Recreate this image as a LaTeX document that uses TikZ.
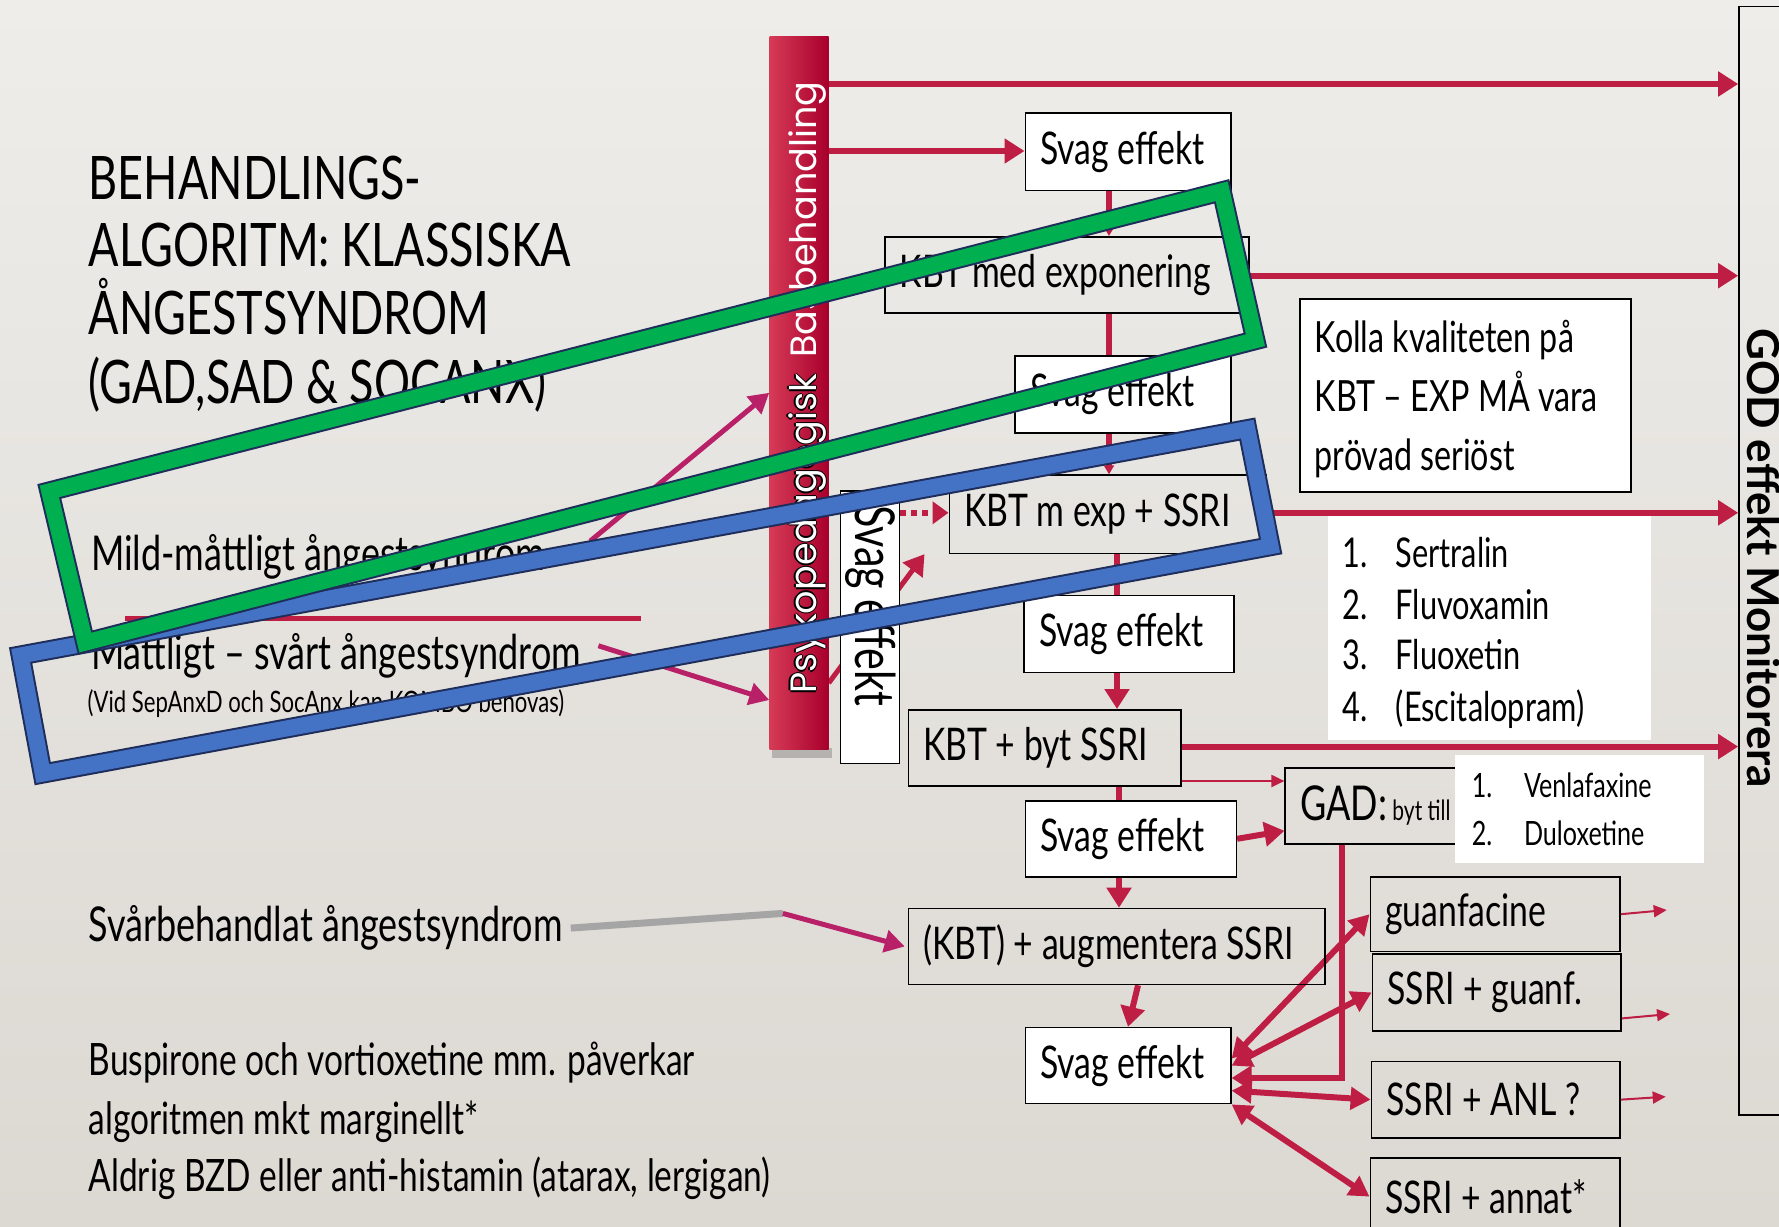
\documentclass[tikz,border=0pt]{standalone}
\usepackage{fontspec}
\setmainfont{Lato}[FakeStretch=0.75]
\newfontfamily\godfont{Lato}
\newfontfamily\barfont{Poppins}
\usetikzlibrary{arrows.meta}
\pgfdeclarelayer{back}
\pgfdeclarelayer{mid}
\pgfsetlayers{back,mid,main}
\definecolor{crim}{RGB}{190,30,68}
\definecolor{mag}{RGB}{184,32,104}
\definecolor{grn}{RGB}{0,176,80}
\definecolor{blu}{RGB}{68,114,196}
\definecolor{navy}{RGB}{31,45,90}
\definecolor{bgtop}{RGB}{238,237,234}
\definecolor{bgbot}{RGB}{220,216,210}
\definecolor{barl}{RGB}{214,58,86}
\definecolor{barr}{RGB}{168,0,44}
\definecolor{gry}{RGB}{165,165,165}
\newcommand{\fs}[2]{\fontsize{#1}{#2}\selectfont}
\newcommand{\outl}[1]{\leavevmode\rlap{\color{black}\raisebox{1.4pt}{#1}}\rlap{\color{black}\raisebox{-1.4pt}{#1}}\rlap{\color{black}\kern1.4pt#1}\rlap{\color{black}\kern-1.4pt#1}#1}
\begin{document}
\begin{tikzpicture}[x=1pt,y=-1pt,
  box/.style={draw=black, line width=1.6pt, rectangle, inner xsep=15pt, inner ysep=0pt, anchor=north west, font=\fs{45}{54}},
  wbox/.style={box, fill=white},
  tx/.style={anchor=base west, inner sep=0pt, font=\fs{45}{54}},
  ar/.style={draw=crim, line width=6pt, -{Triangle[length=20pt,width=24pt]}},
  arsm/.style={draw=crim, line width=6pt, -{Triangle[length=9pt,width=10pt]}},
  ln/.style={draw=crim, line width=6pt},
  arthin/.style={draw=crim, line width=2pt, -{Triangle[length=13pt,width=12pt]}},
  ardbl/.style={draw=crim, line width=6pt, {Triangle[length=20pt,width=22pt]}-{Triangle[length=20pt,width=22pt]}},
  marr/.style={draw=mag, line width=5pt, -{Triangle[length=20pt,width=22pt]}},
  dotarr/.style={draw=crim, line width=6pt, dash pattern=on 6pt off 5pt, -{Triangle[length=16pt,width=22pt]}},
  frame/.style={draw=navy, line width=2pt, double distance=16pt, line join=miter},
  listbox/.style={fill=white, inner sep=0pt, anchor=north west},
]
\useasboundingbox (0,0) rectangle (1779,1226);
\begin{pgfonlayer}{back}
\shade[top color=bgtop, bottom color=bgbot] (0,0) rectangle (1779,1226);
\end{pgfonlayer}

% left texts
\node[tx, font=\fs{60}{68}] (t1) at (88.5,199.7) {BEHANDLINGS-};
\node[tx, font=\fs{60}{68}] (t2) at (88.5,266.6) {ALGORITM: KLASSISKA};
\node[tx, font=\fs{60}{68}] (t3) at (88.5,334.7) {ÅNGESTSYNDROM};
\node[tx, font=\fs{60}{68}] (t4) at (88.5,403.9) {(GAD,SAD \& SOCANX)};
\node[tx, font=\fs{48}{54}] (mild) at (90.8,570.7) {Mild-måttligt ångestsyndrom};
\node[tx, font=\fs{48}{54}] (matt) at (90.8,669.4) {Måttligt – svårt ångestsyndrom};
\node[tx, font=\fs{29.5}{32}] (vid) at (87.4,712.5) {(Vid SepAnxD och SocAnx kan KOMBO behövas)};
\node[tx, font=\fs{48}{54}] (svar) at (88.5,941.7) {Svårbehandlat ångestsyndrom};
\node[tx, font=\fs{44.6}{50}] (n1) at (88.5,1075.6) {Buspirone och vortioxetine mm. påverkar};
\node[tx, font=\fs{44.6}{50}] (n2) at (88.5,1134.6) {algoritmen mkt marginellt*};
\node[tx, font=\fs{44.6}{50}] (n3) at (88.5,1191.3) {Aldrig BZD eller anti-histamin (atarax, lergigan)};

% bar
\node[draw=none, left color=barl, right color=barr, minimum width=59pt, minimum height=712.5pt, inner sep=0pt, anchor=north west] (bar) at (769.3,36.3) {};
\node[rotate=90, anchor=base west, inner sep=0pt, text=white, font=\barfont\fs{36.6}{40}] (bart) at (816,694) {\outl{Psykopedagogisk}\hspace{16pt}Basbehandling};

% GOD box
\node[draw=black, line width=1.6pt, minimum width=80pt, minimum height=1108.5pt, inner sep=0pt, anchor=north west] (god) at (1738.2,5.7) {};
\node[rotate=-90, inner sep=0pt, font=\godfont\bfseries\fs{44}{48}] (godt) at (1764,558) {GOD effekt Monitorera};

% boxes
\node[wbox, minimum height=77.2pt] (s1) at (1024.5,112.3) {\makebox[175.5pt][l]{Svag effekt}};
\node[box, minimum height=76pt] (kme) at (883.9,236) {\makebox[334pt][l]{KBT med exponering}};
\node[wbox, minimum height=77.3pt] (s2) at (1014.3,355) {\makebox[185.7pt][l]{Svag effekt}};
\node[box, minimum height=78.2pt] (kms) at (948.5,474.3) {\makebox[286.5pt][l]{KBT m exp + SSRI}};
\node[wbox, minimum height=192.9pt, font=\fs{43}{59}] (kolla) at (1299,298.4) {\makebox[301.4pt][l]{\raisebox{-4pt}[\height][\depth]{\begin{tabular}{@{}l@{}}Kolla kvaliteten på\\KBT – EXP MÅ vara\\prövad seriöst\end{tabular}}}};
\node[wbox, minimum width=59pt, minimum height=272.5pt, inner xsep=0pt] (sv) at (839.6,490) {};
\node[rotate=-90, anchor=base west, inner sep=0pt, font=\fs{55}{60}] (svt) at (855,505) {Svag effekt};
\node[wbox, minimum height=77.2pt] (s3) at (1023.4,594.5) {\makebox[180pt][l]{Svag effekt}};
\node[box, minimum height=76pt] (kbs) at (907.7,709) {\makebox[242.3pt][l]{KBT + byt SSRI}};
\node[box, minimum height=76pt] (gad) at (1284.4,767) {\makebox[150pt][l]{\fs{48}{54}GAD:{\fs{28}{30} byt till}}};
\node[wbox, minimum height=76pt] (s4) at (1024.5,800) {\makebox[181pt][l]{Svag effekt}};
\node[box, minimum height=76pt] (aug) at (907.7,907.7) {\makebox[386.3pt][l]{(KBT) + augmentera SSRI}};
\node[wbox, minimum height=76pt] (s5) at (1024.5,1026.8) {\makebox[175.5pt][l]{Svag effekt}};
\node[box, minimum height=74.8pt] (guanf) at (1369.5,876) {\makebox[219.5pt][l]{guanfacine}};
\node[box, minimum height=77.2pt] (ssrig) at (1371.7,953) {\makebox[218.5pt][l]{SSRI + guanf.}};
\node[box, minimum height=76.1pt] (ssria) at (1370.6,1060.8) {\makebox[218.4pt][l]{SSRI + ANL ?}};
\node[box, minimum height=77pt] (ssrin) at (1369.5,1157.3) {\makebox[219.5pt][l]{SSRI + annat*}};

% lists
\node[listbox, minimum width=323.3pt, minimum height=224pt] (l1) at (1327.5,516) {};
\node[tx, font=\fs{41}{50}] (l1a) at (1342,567.3) {\makebox[53.6pt][l]{1.}Sertralin};
\node[tx, font=\fs{41}{50}] (l1b) at (1342,619.5) {\makebox[53.6pt][l]{2.}Fluvoxamin};
\node[tx, font=\fs{41}{50}] (l1c) at (1342,669.4) {\makebox[53.6pt][l]{3.}Fluoxetin};
\node[tx, font=\fs{41}{50}] (l1d) at (1342,721.6) {\makebox[53.6pt][l]{4.}(Escitalopram)};
\node[listbox, minimum width=249.6pt, minimum height=107.8pt] (l2) at (1454.6,754.5) {};
\node[tx, font=\fs{33.5}{40}] (l2a) at (1471.6,797.6) {\makebox[52.2pt][l]{1.}Venlafaxine};
\node[tx, font=\fs{33.5}{40}] (l2b) at (1471.6,845.3) {\makebox[52.2pt][l]{2.}Duloxetine};

% coordinates
\coordinate (ya) at (0,84);
\coordinate (yb) at (0,151);
\coordinate (yc) at (0,275.7);
\coordinate (yd) at (0,512.8);
\coordinate (ye) at (0,746.6);
\coordinate (yf) at (0,781);
\coordinate (yg) at (0,1078);
\coordinate (yq) at (0,700);
\coordinate (yh) at (0,683);
\coordinate (xa) at (1109,0);
\coordinate (xb) at (1117,0);
\coordinate (xc) at (1119,0);
\coordinate (xd) at (1138,0);
\coordinate (xe) at (1128,0);
\coordinate (xg) at (1342,0);
\coordinate (bend) at (782.9,913.4);
\coordinate (gfo) at (1666.7,910);
\coordinate (sgo) at (1670,1014);
\coordinate (sao) at (1665.7,1096.7);
\coordinate (rl1) at (124.8,618.4);
\coordinate (rl2) at (641,618.4);

\begin{pgfonlayer}{mid}
\fill[black, opacity=0.2] (772,748) rectangle (832,758);
\draw[ar] (bar.east |- ya) -- (god.west |- ya);
\draw[ar] (bar.east |- yb) -- (s1.west |- yb);
\draw[arsm] (s1.south -| xa) -- (kme.north -| xa);
\draw[ln] (kme.south -| xa) -- (s2.north -| xa);
\draw[arsm] (s2.south -| xa) -- (kms.north -| xa);
\draw[ar] (kme.east |- yc) -- (god.west |- yc);
\draw[ar] (kms.east |- yd) -- (god.west |- yd);
\draw[dotarr] (sv.east |- yd) -- (kms.west |- yd);
\draw[ar, line width=5pt] (bar.east |- yh) -- ([xshift=-24pt]kms.south west);
\draw[ln] (kms.south -| xb) -- (s3.north -| xb);
\draw[ar] (s3.south -| xb) -- (kbs.north -| xb);
\draw[ar] (kbs.east |- ye) -- (god.west |- ye);
\draw[arthin] (kbs.east |- yf) -- (gad.west |- yf);
\draw[ln] (kbs.south -| xc) -- (s4.north -| xc);
\draw[ar] (s4.south -| xc) -- (aug.north -| xc);
\draw[ar] (s4.east) -- ([yshift=-25pt]gad.west);
\draw[ar] (aug.south -| xd) -- (s5.north -| xe);
\draw[ar] (gad.south -| xg) -- (xg |- yg) -- (s5.east |- yg);
\draw[ardbl] ([yshift=7pt]s5.east) -- (guanf.west);
\draw[ardbl] (s5.east) -- (ssrig.west);
\draw[ardbl] ([yshift=-25pt]s5.east) -- (ssria.west);
\draw[ardbl] (s5.south east) -- (ssrin.west);
\draw[arthin] (guanf.east) -- (gfo);
\draw[arthin] ([yshift=-26pt]ssrig.east) -- (sgo);
\draw[arthin] (ssria.east) -- (sao);
\draw[marr] ([xshift=45pt,yshift=16pt]mild.east) -- (bar.west);
\draw[marr] ([xshift=17pt,yshift=10pt]matt.east) -- (bar.west |- yq);
\draw[draw=gry, line width=7pt] ([xshift=8pt]svar.east) -- (bend);
\draw[marr] (bend) -- ([xshift=-3pt]aug.west);
\draw[draw=crim, line width=5pt] (rl1) -- (rl2);
\end{pgfonlayer}

% frames
\draw[frame, double=blu] (20.6,655.4) -- (1247.3,429.1) -- (1270.6,546.2) -- (42.7,773.6) -- cycle;
\draw[frame, double=grn] (49.3,491.4) -- (1221.7,191.3) -- (1255.4,340.2) -- (85.3,642.6) -- cycle;
\end{tikzpicture}
\end{document}
